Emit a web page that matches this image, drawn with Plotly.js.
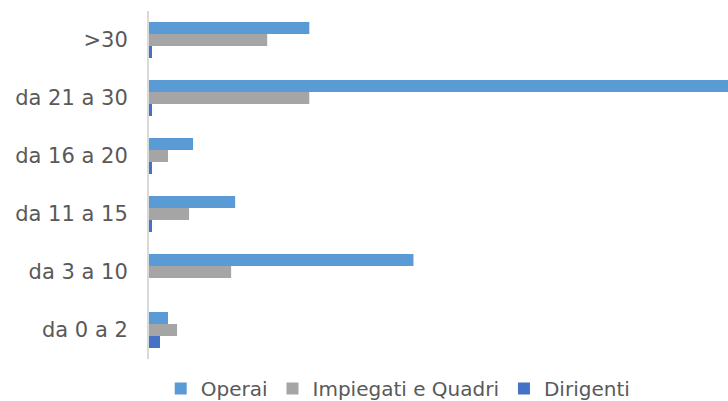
<!DOCTYPE html>
<html><head><meta charset="utf-8">
<script src="https://cdn.plot.ly/plotly-3.0.1.min.js"></script>
<style>html,body{margin:0;padding:0;background:#fff}#chart{width:728px;height:401px}</style>
</head><body><div id="chart"></div>
<script>
const categories = ["da 0 a 2", "da 3 a 10", "da 11 a 15", "da 16 a 20", "da 21 a 30", ">30"];
const operai = [9.5, 132, 43, 22, 320, 80];
const impiegati = [14, 41, 20, 9.5, 80, 59];
const dirigenti = [5.5, 0, 1.5, 1.5, 1.5, 1.5];
const seriesNames = ["Operai", "Impiegati e Quadri", "Dirigenti"];
const colors = ["#5B9BD5", "#A5A5A5", "#4472C4"];

const traces = [
  {name: seriesNames[2], x: dirigenti, y: categories, type: "bar", orientation: "h", marker: {color: colors[2]}, hoverinfo: "x+name"},
  {name: seriesNames[1], x: impiegati, y: categories, type: "bar", orientation: "h", marker: {color: colors[1]}, hoverinfo: "x+name"},
  {name: seriesNames[0], x: operai, y: categories, type: "bar", orientation: "h", marker: {color: colors[0]}, hoverinfo: "x+name"}
];

const layout = {
  width: 728, height: 401,
  margin: {l: 149, r: 0, t: 11, b: 42, autoexpand: false},
  paper_bgcolor: "#fff", plot_bgcolor: "#fff",
  barmode: "group", bargap: 0.38, bargroupgap: 0,
  font: {family: "DejaVu Sans, sans-serif", color: "#595959", size: 20},
  xaxis: {range: [0, 289], showgrid: false, zeroline: false, showticklabels: false, showline: false, fixedrange: true},
  yaxis: {type: "category", categoryorder: "array", categoryarray: categories,
          showline: true, linecolor: "#d9d9d9", linewidth: 2, showgrid: false, zeroline: false,
          ticks: "", ticklabelstandoff: 15, tickfont: {size: 21, color: "#595959"}},
  showlegend: true,
  legend: {orientation: "h", traceorder: "reversed", xref: "container", x: 0.547, xanchor: "center",
           yref: "paper", y: -0.085, yanchor: "middle", font: {size: 20, color: "#595959"},
           itemwidth: 30, tracegroupgap: 0}
};
Plotly.newPlot("chart", traces, layout, {displayModeBar: false, staticPlot: true});
</script></body></html>
